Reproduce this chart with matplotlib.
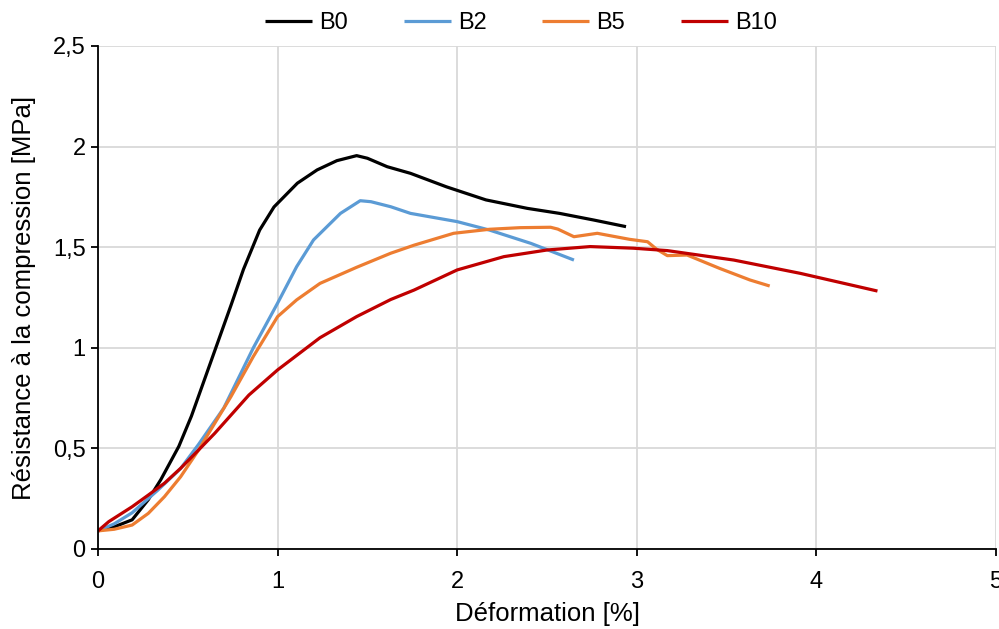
import matplotlib
matplotlib.use("Agg")
import matplotlib.pyplot as plt

plt.rcParams['font.family'] = ['Liberation Sans', 'DejaVu Sans']

# données (déformation [%], résistance [MPa])
b0_x = [0.0, 0.09, 0.19, 0.28, 0.35, 0.45, 0.52, 0.62, 0.74, 0.81, 0.90, 0.98,
        1.11, 1.22, 1.33, 1.44, 1.50, 1.61, 1.74, 1.94, 2.16, 2.39, 2.57, 2.76, 2.94]
b0_y = [0.09, 0.11, 0.145, 0.245, 0.345, 0.51, 0.66, 0.91, 1.21, 1.39, 1.585, 1.70,
        1.818, 1.884, 1.93, 1.955, 1.942, 1.90, 1.867, 1.80, 1.735, 1.693, 1.668, 1.635,
        1.602]

b2_x = [0.0, 0.09, 0.19, 0.33, 0.46, 0.56, 0.70, 0.865, 1.00, 1.106, 1.20, 1.35,
        1.46, 1.52, 1.63, 1.74, 2.00, 2.18, 2.41, 2.65]
b2_y = [0.09, 0.125, 0.18, 0.29, 0.40, 0.52, 0.70, 1.0, 1.222, 1.403, 1.536, 1.668,
        1.731, 1.726, 1.701, 1.668, 1.627, 1.585, 1.519, 1.436]

b5_x = [0.0, 0.09, 0.19, 0.28, 0.37, 0.46, 0.56, 0.65, 0.74, 0.865, 1.00, 1.106, 1.236,
        1.44, 1.63, 1.76, 1.98, 2.18, 2.35, 2.52, 2.56, 2.65, 2.78, 2.96, 3.06, 3.11,
        3.17, 3.28, 3.46, 3.63, 3.74]
b5_y = [0.09, 0.098, 0.119, 0.177, 0.26, 0.359, 0.492, 0.625, 0.757, 0.957, 1.155, 1.238,
        1.32, 1.40, 1.47, 1.51, 1.569, 1.589, 1.597, 1.599, 1.59, 1.552, 1.569, 1.539,
        1.527, 1.49, 1.458, 1.461, 1.395, 1.337, 1.307]

b10_x = [0.0, 0.06, 0.19, 0.28, 0.37, 0.46, 0.56, 0.65, 0.84, 1.00, 1.236, 1.44, 1.63,
         1.76, 2.00, 2.26, 2.50, 2.74, 2.98, 3.17, 3.54, 3.91, 4.34]
b10_y = [0.09, 0.136, 0.21, 0.268, 0.327, 0.401, 0.492, 0.575, 0.765, 0.89, 1.05, 1.155,
         1.24, 1.287, 1.387, 1.453, 1.486, 1.503, 1.495, 1.483, 1.436, 1.37, 1.282]

series = [("B0", b0_x, b0_y, "#000000"),
          ("B2", b2_x, b2_y, "#5b9bd5"),
          ("B5", b5_x, b5_y, "#ed7d31"),
          ("B10", b10_x, b10_y, "#c00000")]

fig = plt.figure(figsize=(9.99, 6.29), dpi=100)
ax = fig.add_axes([0.0981, 0.1272, 0.8989, 0.7997])

for name, xs, ys, col in series:
    ax.plot(xs, ys, color=col, lw=2.3, label=name,
            solid_joinstyle='round', solid_capstyle='butt')

ax.set_xlim(0, 5)
ax.set_ylim(0, 2.5)
ax.set_xticks([0, 1, 2, 3, 4, 5])
ax.set_yticks([0, 0.5, 1, 1.5, 2, 2.5])
ax.set_yticklabels(["0", "0,5", "1", "1,5", "2", "2,5"])
ax.grid(True, color="#d9d9d9", lw=1.3)
ax.set_axisbelow(True)
for s in ["top", "right"]:
    ax.spines[s].set_visible(False)
for s in ["left", "bottom"]:
    ax.spines[s].set_linewidth(1.3)
ax.tick_params(axis="both", labelsize=17, length=5, width=1.3, direction="out")
ax.tick_params(axis="x", pad=11)
ax.tick_params(axis="y", pad=4)

ax.set_xlabel("Déformation [%]", fontsize=18.5, labelpad=6)
ax.set_ylabel("Résistance à la compression [MPa]", fontsize=18.5, labelpad=12)

ax.legend(loc="center", bbox_to_anchor=(0.471, 1.045), ncol=4, frameon=False,
          fontsize=17, handlelength=2.0, columnspacing=2.35, handletextpad=0.3)

fig.savefig("out.png", dpi=100)
